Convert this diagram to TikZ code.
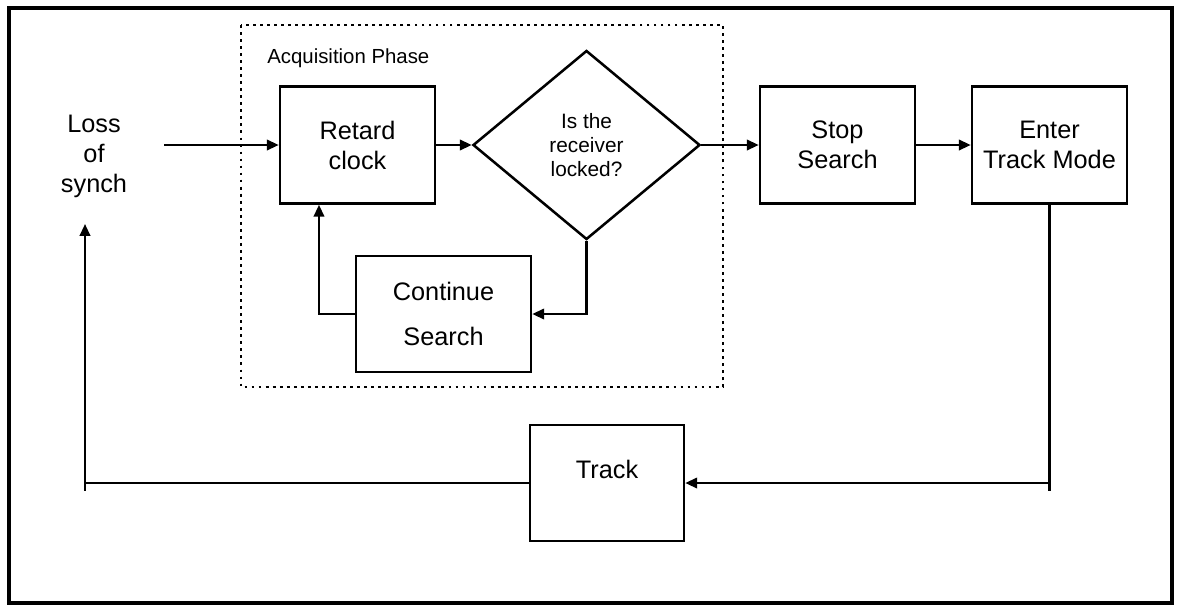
\documentclass[tikz,border=0pt]{standalone}
\usepackage{fontspec}
\setmainfont{Liberation Sans}
\usetikzlibrary{shapes.geometric,arrows.meta}

\tikzset{
  box/.style={draw, line width=1.8pt, inner sep=0pt, align=center,
    minimum width=3.875cm, minimum height=2.925cm,
    font=\fontsize{18}{21.3}\selectfont},
  decide/.style={diamond, draw, line width=1.8pt, inner sep=0pt, align=center,
    minimum width=5.675cm, minimum height=4.725cm,
    font=\fontsize{14.8}{17}\selectfont},
  flow/.style={line width=1.6pt, -{Triangle[length=8.5pt,width=7.5pt]}},
  wire/.style={line width=1.6pt}
}

\begin{document}
\begin{tikzpicture}[x=0.025cm, y=-0.025cm]
  \useasboundingbox (0,0) rectangle (1178,606);
  \draw[line width=2.6pt] (9,8) rectangle (1172,603);
  % acquisition phase group
  \draw[line width=1.6pt, dash pattern=on 2pt off 3pt] (241,25) rectangle (723,387);
  \node[anchor=base west, inner sep=0pt, font=\fontsize{14.5}{17}\selectfont] (phase) at (267,63) {Acquisition Phase};

  \node[align=center, font=\fontsize{18}{21.3}\selectfont] (loss) at (94,156.5) {Loss\\of\\synch};
  \node[box] (retard) at (357.5,145) {Retard\\clock};
  \node[decide] (locked) at (586.5,145) {Is the\\receiver\\locked?};
  \node[box] (stop) at (837.5,145) {Stop\\Search};
  \node[box] (enter) at (1049.5,145) {Enter\\Track Mode};
  \node[box, minimum width=4.375cm, minimum height=2.9cm] (cont) at (443.5,314) {Continue\\[11pt]Search};
  \node[box, minimum width=3.85cm, minimum height=2.9cm, text depth=20pt] (track) at (607,483) {Track};

  % main flow
  \coordinate (start) at (164,145);
  \draw[flow] (start) -- (retard.west);
  \draw[flow] (retard.east) -- (locked.west);
  \draw[flow] (locked.east) -- (stop.west);
  \draw[flow] (stop.east) -- (enter.west);
  \draw[flow] (locked.south) |- (cont.east);
  \draw[flow] (cont.west) -| ([xshift=-0.9625cm]retard.south);

  % return path
  \coordinate (turn) at (enter.south |- track.east);
  \draw[wire] (enter.south) -- ([yshift=-0.2cm]turn);
  \draw[flow] (turn) -- (track.east);
  \coordinate (back) at (85,224);
  \coordinate (corner) at (back |- track.west);
  \draw[wire] (track.west) -- (corner) -- ([yshift=-0.2cm]corner);
  \draw[flow] (corner) -- (back);
\end{tikzpicture}
\end{document}
